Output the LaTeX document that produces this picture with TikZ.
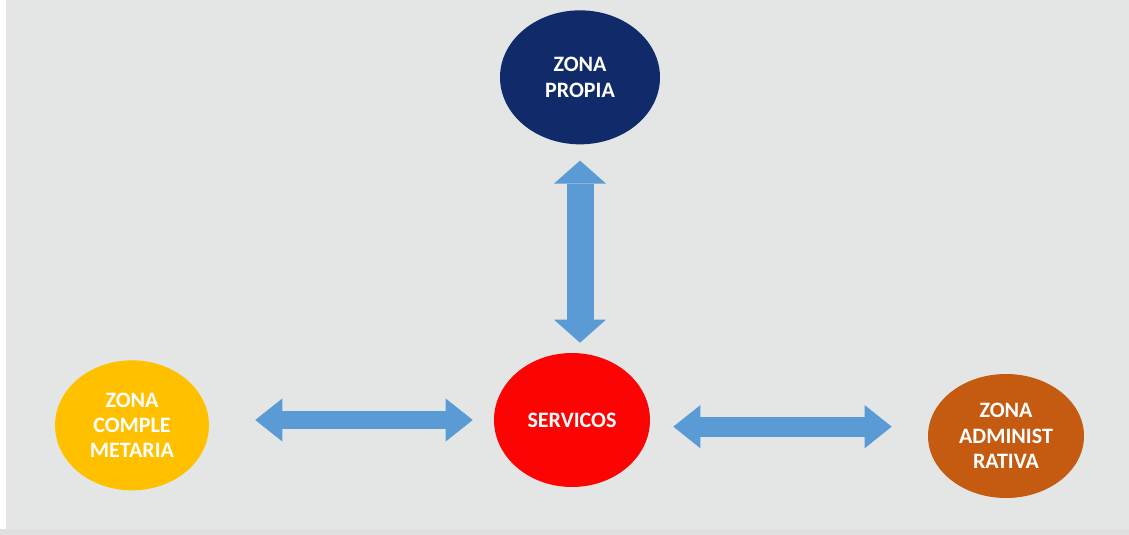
\documentclass[tikz,border=0pt]{standalone}
\usepackage{fontspec}
\setmainfont{Carlito}
\usepackage{xcolor}
\usetikzlibrary{arrows.meta,positioning,shapes.geometric}
\definecolor{fondo}{RGB}{228,230,230}
\definecolor{azulzona}{RGB}{16,42,106}
\definecolor{rojoserv}{RGB}{252,4,4}
\definecolor{amarillozona}{RGB}{255,192,0}
\definecolor{naranjazona}{RGB}{197,90,17}
\definecolor{azulflecha}{RGB}{91,155,213}

\begin{document}
\begin{tikzpicture}[-,node distance=330pt,main node/.style={ellipse,inner sep=0pt,align=center,text=white,font=\fontsize{16.5pt}{19pt}\selectfont\bfseries},flecha/.style={draw=azulflecha,line width=#1}]
		%fondo
		\fill [fondo] (0,0) rectangle (846.75pt,-401.25pt);
		\fill [white] (0,0) rectangle (4.5pt,-401.25pt);
		\fill [black!12] (0,-396.75pt) rectangle (846.75pt,-401.25pt);
		%zonas
		\node [main node,fill=rojoserv,minimum width=117pt,minimum height=100.5pt](SERV) at (429pt,-315pt) {SERVICOS};
		\node [main node,fill=azulzona,minimum width=120pt,minimum height=100.5pt](ZP) [above of = SERV, xshift = 6pt, yshift = -73pt] {ZONA\\PROPIA};
		\node [main node,fill=amarillozona,minimum width=115.5pt,minimum height=97.5pt](ZC) [left of = SERV, yshift = -4pt] {ZONA\\COMPLE\\METARIA};
		\node [main node,fill=naranjazona,minimum width=117pt,minimum height=93pt](ZA) [right of = SERV, xshift = -4.5pt, yshift = -12pt] {ZONA\\ADMINIST\\RATIVA};
		\coordinate (r1) at ([yshift=-5pt]SERV.east);

		%flechas
		\draw [flecha=20.25pt,{Triangle[width=39pt,length=17.25pt,line width=0pt]}-{Triangle[width=39pt,length=17.25pt,line width=0pt]},shorten <=12pt,shorten >=7.5pt] (ZP.south) -- (ZP.south |- SERV.north);
		\draw [flecha=14pt,{Triangle[width=32.25pt,length=20.25pt,line width=0pt]}-{Triangle[width=32.25pt,length=20.25pt,line width=0pt]},shorten <=34.5pt,shorten >=15.75pt] (SERV.west -| ZC.east) -- (SERV.west);
		\draw [flecha=15pt,{Triangle[width=32.25pt,length=20.25pt,line width=0pt]}-{Triangle[width=32.25pt,length=20.25pt,line width=0pt]},shorten <=17.25pt,shorten >=27pt] (r1) -- (r1 -| ZA.west);
		\end{tikzpicture}
\end{document}
